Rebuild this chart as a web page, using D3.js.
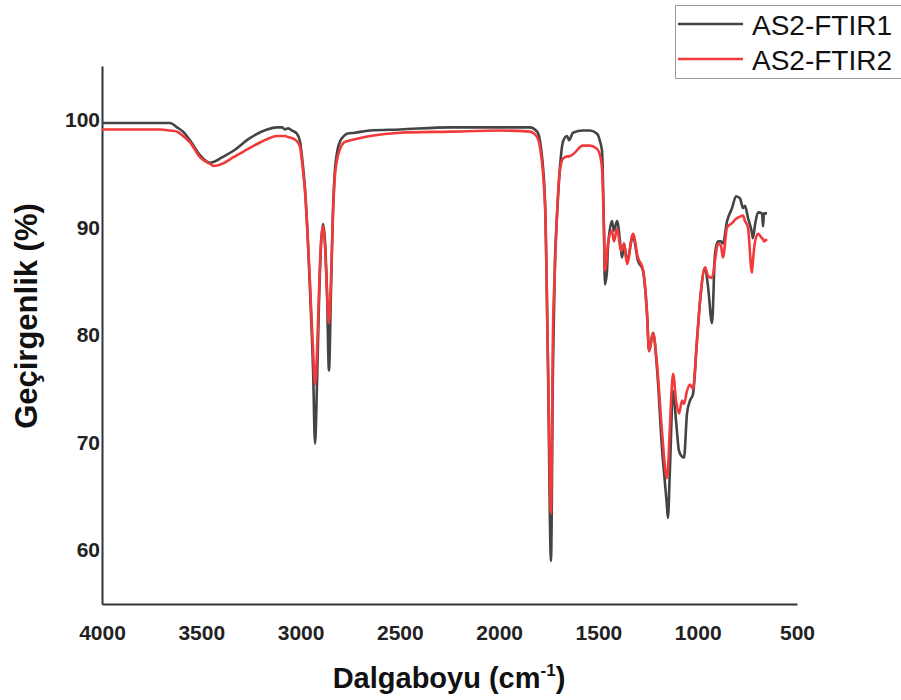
<!DOCTYPE html>
<html lang="tr">
<head>
  <meta charset="UTF-8">
  <title>FTIR</title>
  <script src="https://d3js.org/d3.v7.min.js"></script>
  <style>
    body { margin: 0; background: #fff; }
    svg text { font-family: "Liberation Sans", Arial, sans-serif; }
  </style>
</head>
<body>
<svg id="chart" width="901" height="700"></svg>

<script>
  const wavenumber = [4000, 3909, 3809, 3708, 3658, 3622, 3592, 3557, 3506, 3456, 3436, 3396, 3340, 3255, 3169, 3119,
    3094, 3078, 3063, 3043, 3018, 3003, 2988, 2978, 2963, 2953, 2937, 2927, 2917, 2907, 2897, 2887, 2877, 2867, 2857,
    2847, 2837, 2827, 2817, 2801, 2781, 2766, 2726, 2650, 2499, 2247, 1996, 1845, 1809, 1794, 1769, 1754, 1739, 1729,
    1719, 1709, 1694, 1678, 1658, 1648, 1628, 1578, 1542, 1507, 1492, 1482, 1472, 1467, 1457, 1452, 1432, 1422, 1406,
    1386, 1381, 1371, 1356, 1326, 1301, 1276, 1255, 1245, 1225, 1205, 1180, 1160, 1155, 1150, 1140, 1124, 1109, 1094,
    1079, 1069, 1054, 1039, 1024, 1004, 988, 963, 948, 928, 913, 898, 883, 873, 852, 827, 807, 787, 772, 762, 747,
    727, 722, 711, 696, 676, 671, 666, 651];

  const ftir1 = [99.7, 99.7, 99.7, 99.7, 99.7, 99.3, 98.9, 98.1, 96.7, 96.0, 96.1, 96.5, 97.1, 98.3, 99.1, 99.3,
    99.3, 99.1, 99.2, 99.0, 98.7, 98.0, 95.7, 93.7, 88.7, 84.4, 76.7, 69.9, 75.7, 83.2, 88.3, 90.3, 88.7, 84.0, 76.7,
    84.0, 91.5, 95.3, 96.9, 98.0, 98.5, 98.7, 98.8, 99.0, 99.1, 99.3, 99.3, 99.3, 98.9, 98.0, 92.5, 76.9, 59.0, 76.9,
    86.9, 90.9, 95.5, 98.0, 98.5, 98.1, 98.8, 99.0, 99.0, 98.7, 98.0, 97.1, 89.7, 84.7, 85.9, 88.1, 90.6, 89.7, 90.6,
    87.8, 87.2, 88.5, 86.9, 89.2, 86.9, 86.0, 81.9, 78.5, 80.2, 76.9, 69.5, 65.2, 64.1, 63.0, 67.5, 74.8, 72.0, 69.2,
    68.7, 68.6, 72.7, 73.9, 74.5, 79.4, 83.2, 86.2, 84.5, 81.1, 87.5, 88.7, 88.7, 88.5, 90.6, 91.8, 92.9, 92.7, 91.8,
    92.0, 90.9, 89.5, 89.0, 90.3, 91.4, 91.3, 90.1, 91.3, 91.3];

  const ftir2 = [99.1, 99.1, 99.1, 99.1, 99.0, 98.9, 98.5, 97.9, 96.5, 95.9, 95.7, 95.9, 96.5, 97.4, 98.2, 98.5,
    98.5, 98.5, 98.4, 98.3, 98.0, 97.5, 95.3, 93.4, 88.7, 85.0, 78.5, 75.4, 78.5, 84.1, 88.7, 90.1, 88.3, 84.0, 81.1,
    85.0, 91.1, 94.8, 96.2, 97.3, 97.9, 98.0, 98.2, 98.5, 98.8, 98.9, 99.0, 98.9, 98.4, 97.4, 92.0, 77.6, 63.4, 80.2,
    86.2, 91.1, 95.3, 96.4, 96.6, 96.6, 96.8, 97.6, 97.6, 97.3, 96.7, 95.5, 89.7, 86.0, 87.4, 88.5, 89.7, 88.7, 89.9,
    87.8, 88.0, 88.5, 86.6, 89.4, 87.2, 86.1, 81.9, 78.5, 80.2, 77.3, 71.1, 67.0, 66.7, 67.5, 71.5, 76.4, 73.9, 72.7,
    73.9, 73.6, 74.8, 75.4, 75.0, 79.4, 83.2, 86.3, 85.5, 85.3, 86.9, 88.5, 88.3, 87.2, 90.0, 90.4, 90.8, 91.0, 91.1,
    90.6, 90.0, 85.8, 86.9, 88.7, 89.4, 89.0, 88.9, 88.7, 88.9];

  const seriesNames = ["AS2-FTIR1", "AS2-FTIR2"];
  const seriesColors = ["#444444", "#f23a3a"];
  const xTicks = [4000, 3500, 3000, 2500, 2000, 1500, 1000, 500];
  const yTicks = [60, 70, 80, 90, 100];

  const svg = d3.select("#chart");

  const x = d3.scaleLinear().domain([4000, 500]).range([102, 797]);
  const y = d3.scaleLinear().domain([55, 105]).range([604, 66]);

  // Axes: no tick marks, bold tick labels
  const xAxis = svg.append("g")
          .attr("transform", "translate(0,604)")
          .call(d3.axisBottom(x).tickValues(xTicks).tickSize(0).tickPadding(21).tickFormat(d3.format("d")));
  const yAxis = svg.append("g")
          .attr("transform", "translate(102,0)")
          .call(d3.axisLeft(y).tickValues(yTicks).tickSize(0).tickPadding(2));

  [xAxis, yAxis].forEach(a => {
    a.select(".domain").attr("stroke", "#333").attr("stroke-width", 2);
    a.selectAll("text")
            .attr("font-size", 21)
            .attr("font-weight", "bold")
            .attr("fill", "#222")
            .style("font-family", "'Liberation Sans', Arial, sans-serif");
  });

  // Spectra
  const series = [ftir1, ftir2];
  const line = d3.line()
          .x((d, i) => x(wavenumber[i]))
          .y(d => y(d))
          .curve(d3.curveMonotoneX);

  series.forEach((s, k) => {
    svg.append("path")
            .datum(s)
            .attr("fill", "none")
            .attr("stroke", seriesColors[k])
            .attr("stroke-width", 2.6)
            .attr("stroke-linejoin", "round")
            .attr("d", line);
  });

  // Axis titles
  svg.append("text")
          .attr("x", 449)
          .attr("y", 688)
          .attr("text-anchor", "middle")
          .attr("font-size", 29)
          .attr("font-weight", "bold")
          .attr("fill", "#111")
          .text("Dalgaboyu (cm")
          .append("tspan").attr("font-size", 17).attr("dy", -12).text("-1")
          .select(function () { return this.parentNode; })
          .append("tspan").attr("dy", 12).text(")");

  svg.append("text")
          .attr("transform", "translate(37,316) rotate(-90)")
          .attr("text-anchor", "middle")
          .attr("font-size", 31)
          .attr("font-weight", "bold")
          .attr("fill", "#111")
          .text("Geçirgenlik (%)");

  // Legend
  const legend = svg.append("g");
  legend.append("rect")
          .attr("x", 675.5).attr("y", 5.5)
          .attr("width", 240).attr("height", 73)
          .attr("fill", "#fff")
          .attr("stroke", "#999")
          .attr("stroke-width", 1);

  seriesNames.forEach((name, k) => {
    const ly = 24 + k * 35;
    legend.append("line")
            .attr("x1", 678).attr("x2", 743)
            .attr("y1", ly).attr("y2", ly)
            .attr("stroke", seriesColors[k])
            .attr("stroke-width", 2.6);
    legend.append("text")
            .attr("x", 752).attr("y", ly + 11)
            .attr("font-size", 28)
            .attr("fill", "#111")
            .text(name);
  });
</script>
</body>
</html>
